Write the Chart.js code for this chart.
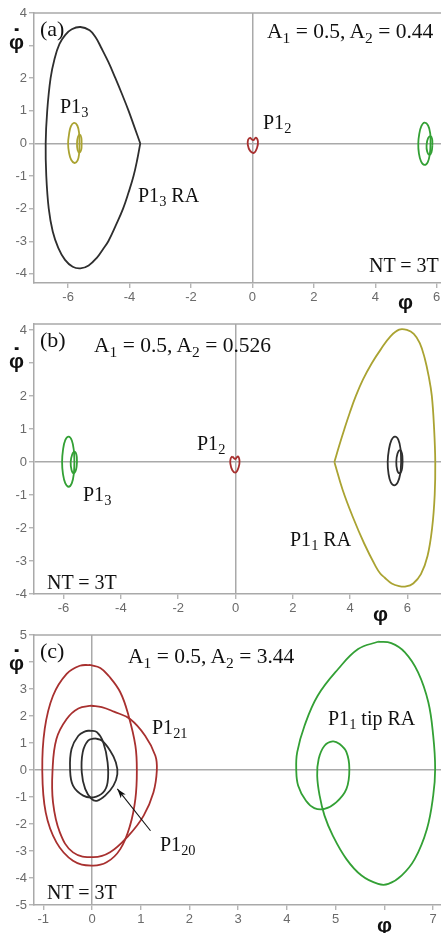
<!DOCTYPE html>
<html>
<head>
<meta charset="utf-8">
<script src="https://cdn.jsdelivr.net/npm/chart.js@4/dist/chart.umd.min.js"></script>
<style>
  html, body { margin: 0; padding: 0; background: #fff; }
  #wrap { position: relative; width: 441px; height: 933px; overflow: hidden; }
  canvas { position: absolute; left: 0; }
  .t { position: absolute; font-family: "Liberation Serif", "Times New Roman", serif; font-size: 20px; line-height: 1; white-space: nowrap; color: #111; }
  .t sub { font-size: 0.72em; vertical-align: baseline; position: relative; top: 0.3em; }
  .big { font-size: 21.5px; }
  .pl { font-size: 22px; }
  .ax { position: absolute; font-family: "Liberation Sans", Arial, sans-serif; font-weight: bold; font-size: 21px; line-height: 1; color: #111; }
  .ax .dot { position: absolute; left: 3px; top: -6px; font-size: 28px; }
</style>
</head>
<body>
<div id="wrap">
  <canvas id="ca" width="441" height="311" style="top:0px"></canvas>
  <canvas id="cb" width="441" height="311" style="top:311px"></canvas>
  <canvas id="cc" width="441" height="311" style="top:622px"></canvas>

  <!-- (a) -->
  <div class="t pl" style="left:40px;top:18px">(a)</div>
  <div class="t big" style="left:267px;top:21px">A<sub>1</sub> = 0.5, A<sub>2</sub> = 0.44</div>
  <div class="t" style="left:60px;top:96px">P1<sub>3</sub></div>
  <div class="t" style="left:263px;top:112px">P1<sub>2</sub></div>
  <div class="t" style="left:138px;top:185px">P1<sub>3</sub> RA</div>
  <div class="t" style="left:369px;top:255px">NT = 3T</div>
  <div class="ax" style="left:9px;top:31px">φ<span class="dot">˙</span></div>
  <div class="ax" style="left:398px;top:291px">φ</div>

  <!-- (b) -->
  <div class="t pl" style="left:40px;top:329px">(b)</div>
  <div class="t big" style="left:94px;top:335px">A<sub>1</sub> = 0.5, A<sub>2</sub> = 0.526</div>
  <div class="t" style="left:197px;top:433px">P1<sub>2</sub></div>
  <div class="t" style="left:83px;top:484px">P1<sub>3</sub></div>
  <div class="t" style="left:290px;top:529px">P1<sub>1</sub> RA</div>
  <div class="t" style="left:47px;top:572px">NT = 3T</div>
  <div class="ax" style="left:9px;top:350px">φ<span class="dot">˙</span></div>
  <div class="ax" style="left:373px;top:603px">φ</div>

  <!-- (c) -->
  <div class="t pl" style="left:40px;top:640px">(c)</div>
  <div class="t big" style="left:128px;top:646px">A<sub>1</sub> = 0.5, A<sub>2</sub> = 3.44</div>
  <div class="t" style="left:152px;top:717px">P1<sub>21</sub></div>
  <div class="t" style="left:160px;top:834px">P1<sub>20</sub></div>
  <div class="t" style="left:328px;top:708px">P1<sub>1</sub> tip RA</div>
  <div class="t" style="left:47px;top:882px">NT = 3T</div>
  <div class="ax" style="left:9px;top:652px">φ<span class="dot">˙</span></div>
  <div class="ax" style="left:377px;top:914px">φ</div>
</div>

<script>
// phase portraits, points as [phi, phidot]

// ---- (a) A2 = 0.44
const aRA = [[-3.65,0],[-3.84,0.5],[-4.03,1.0],[-4.24,1.5],[-4.46,2.0],[-4.69,2.5],[-4.93,2.95],[-5.1,3.25],
  [-5.3,3.47],[-5.6,3.57],[-5.88,3.5],[-6.09,3.33],[-6.28,3.05],[-6.44,2.6],[-6.57,2.0],[-6.68,1.0],[-6.73,0],
  [-6.71,-1.0],[-6.63,-2.0],[-6.5,-2.7],[-6.32,-3.2],[-6.1,-3.57],[-5.85,-3.78],[-5.6,-3.83],[-5.33,-3.74],
  [-5.06,-3.5],[-4.87,-3.25],[-4.69,-3.0],[-4.44,-2.5],[-4.21,-2.0],[-4.03,-1.5],[-3.87,-1.0],[-3.75,-0.5],[-3.65,0]]
const aP13out = [[-5.63,0],[-5.64,0.3],[-5.7,0.55],[-5.81,0.63],[-5.91,0.52],[-5.97,0.28],[-6.0,0],[-5.97,-0.28],
  [-5.9,-0.5],[-5.79,-0.6],[-5.69,-0.52],[-5.64,-0.3],[-5.63,0]]
const aP13in = [[-5.56,0],[-5.57,0.18],[-5.62,0.27],[-5.68,0.2],[-5.71,0],[-5.69,-0.2],[-5.63,-0.28],[-5.57,-0.18],[-5.56,0]]
const aP12 = [[-0.08,0.18],[0.03,0.1],[0.11,0.18],[0.18,0.06],[0.15,-0.14],[0.05,-0.29],[-0.08,-0.22],[-0.15,-0.04],[-0.14,0.11],[-0.08,0.18]]
const aP1out = [[5.8,0],[5.79,0.3],[5.72,0.55],[5.6,0.64],[5.5,0.53],[5.43,0.28],[5.4,0],[5.42,-0.3],[5.49,-0.55],
  [5.6,-0.66],[5.71,-0.57],[5.78,-0.3],[5.8,0]]
const aP1in = [[5.86,-0.05],[5.85,0.14],[5.8,0.22],[5.72,0.16],[5.67,-0.05],[5.69,-0.25],[5.76,-0.35],[5.83,-0.27],[5.86,-0.05]]

// ---- (b) A2 = 0.526
const bRA = [[3.45,0],[3.62,0.5],[3.8,1.0],[3.99,1.5],[4.2,2.0],[4.45,2.5],[4.76,3.0],[5.1,3.45],[5.4,3.8],
  [5.71,4.01],[5.98,4.0],[6.22,3.88],[6.43,3.6],[6.6,3.15],[6.74,2.6],[6.85,2.0],[6.93,1.0],[6.97,0],[6.95,-1.0],
  [6.86,-2.0],[6.7,-2.85],[6.47,-3.4],[6.2,-3.68],[5.95,-3.77],[5.71,-3.76],[5.45,-3.68],[5.2,-3.5],[5.05,-3.38],
  [4.9,-3.18],[4.49,-2.47],[4.09,-1.66],[3.74,-0.85],[3.45,0]]
const bP13out = [[-5.62,0],[-5.64,0.35],[-5.71,0.65],[-5.82,0.77],[-5.94,0.66],[-6.02,0.35],[-6.05,0],[-6.02,-0.36],
  [-5.94,-0.64],[-5.82,-0.75],[-5.71,-0.64],[-5.64,-0.35],[-5.62,0]]
const bP13in = [[-5.53,0],[-5.55,0.22],[-5.62,0.31],[-5.7,0.22],[-5.75,0],[-5.72,-0.24],[-5.64,-0.34],[-5.56,-0.22],[-5.53,0]]
const bP12 = [[-0.11,0.17],[-0.01,0.09],[0.08,0.17],[0.14,0.04],[0.11,-0.16],[0.01,-0.32],[-0.11,-0.25],[-0.18,-0.05],[-0.17,0.1],[-0.11,0.17]]
const bP11out = [[5.78,0],[5.76,0.38],[5.68,0.68],[5.56,0.77],[5.44,0.66],[5.35,0.36],[5.31,0],[5.34,-0.36],
  [5.42,-0.62],[5.54,-0.71],[5.66,-0.62],[5.75,-0.35],[5.78,0]]
const bP11in = [[5.83,0],[5.81,0.25],[5.74,0.36],[5.65,0.25],[5.61,0],[5.64,-0.24],[5.72,-0.34],[5.8,-0.24],[5.83,0]]

// ---- (c) A2 = 3.44
const cP21a = [[-0.04,3.89],[0.17,3.78],[0.34,3.49],[0.58,2.88],[0.75,2.01],[0.89,0.9],[0.92,-0.03],[0.89,-1.07],
  [0.78,-2.06],[0.58,-2.93],[0.3,-3.42],[-0.01,-3.54],[-0.39,-3.36],[-0.73,-2.68],[-0.95,-1.57],[-1.02,-0.02],
  [-0.97,1.52],[-0.8,2.75],[-0.52,3.56],[-0.25,3.86],[-0.04,3.89]]
const cP21b = [[-0.01,2.38],[0.2,2.33],[0.45,2.16],[0.78,1.89],[1.09,1.27],[1.3,0.53],[1.33,-0.02],[1.26,-0.83],
  [1.06,-1.69],[0.75,-2.43],[0.37,-3.05],[0.03,-3.23],[-0.39,-3.05],[-0.66,-2.31],[-0.8,-1.2],[-0.81,-0.02],
  [-0.73,1.15],[-0.52,1.89],[-0.28,2.28],[-0.01,2.38]]
const cP20a = [[-0.04,1.46],[0.1,1.4],[0.23,1.03],[0.32,0.28],[0.32,-0.46],[0.23,-0.83],[0.03,-1.01],[-0.18,-0.95],
  [-0.39,-0.58],[-0.45,0.04],[-0.42,0.78],[-0.28,1.27],[-0.14,1.43],[-0.04,1.46]]
const cP20b = [[0.06,1.17],[0.2,1.09],[0.37,0.72],[0.49,0.28],[0.52,-0.15],[0.44,-0.58],[0.27,-0.95],[0.1,-1.14],
  [-0.01,-1.07],[-0.14,-0.7],[-0.21,-0.09],[-0.19,0.66],[-0.08,1.09],[0.06,1.17]]
const cTipRA = [[5.87,4.75],[5.46,4.48],[5.05,3.74],[4.63,2.75],[4.36,1.64],[4.21,0.66],[4.19,0.04],[4.23,-0.58],
  [4.39,-1.14],[4.56,-1.41],[4.77,-1.44],[5.01,-1.2],[5.22,-0.7],[5.28,0.04],[5.22,0.66],[5.08,0.96],[4.94,1.06],
  [4.77,0.9],[4.65,0.41],[4.62,-0.21],[4.67,-0.95],[4.77,-1.69],[4.94,-2.43],[5.22,-3.3],[5.53,-3.91],[5.87,-4.22],
  [6.08,-4.22],[6.35,-3.91],[6.62,-3.3],[6.87,-2.19],[7.0,-0.95],[7.04,0.04],[7.0,1.27],[6.9,2.51],[6.69,3.62],
  [6.42,4.36],[6.14,4.7],[5.87,4.75]]
const cArrow = [[1.2,-2.25],[0.52,-0.7]]   // tail, head

// axes
const abXTicks = [-6,-4,-2,0,2,4,6]
const abYTicks = [-4,-3,-2,-1,0,1,2,3,4]
const cXTicks = [-1,0,1,2,3,4,5,6,7]
const cYTicks = [-5,-4,-3,-2,-1,0,1,2,3,4,5]

const grey = '#a9a9a9'
const BLACK = '#2e2e2e', OLIVE = '#aaa332', RED = '#a8302f', GREEN = '#33a035'

const topLine = {
  id: 'topLine',
  beforeDatasetsDraw(chart) {
    const a = chart.chartArea, c = chart.ctx
    c.save()
    c.strokeStyle = grey
    c.lineWidth = 1.5
    c.beginPath()
    c.moveTo(a.left, a.top)
    c.lineTo(a.right, a.top)
    c.stroke()
    c.restore()
  }
}

const arrow = {
  id: 'arrow',
  afterDatasetsDraw(chart) {
    const xs = chart.scales.x, ys = chart.scales.y, c = chart.ctx
    const x0 = xs.getPixelForValue(cArrow[0][0]), y0 = ys.getPixelForValue(cArrow[0][1])
    const x1 = xs.getPixelForValue(cArrow[1][0]), y1 = ys.getPixelForValue(cArrow[1][1])
    const ang = Math.atan2(y1 - y0, x1 - x0), L = 10, w = 0.32
    c.save()
    c.strokeStyle = '#111'
    c.fillStyle = '#111'
    c.lineWidth = 1.1
    c.beginPath()
    c.moveTo(x0, y0)
    c.lineTo(x1, y1)
    c.stroke()
    c.beginPath()
    c.moveTo(x1, y1)
    c.lineTo(x1 - L * Math.cos(ang - w), y1 - L * Math.sin(ang - w))
    c.lineTo(x1 - L * 0.7 * Math.cos(ang), y1 - L * 0.7 * Math.sin(ang))
    c.lineTo(x1 - L * Math.cos(ang + w), y1 - L * Math.sin(ang + w))
    c.closePath()
    c.fill()
    c.restore()
  }
}

const tickFont = { family: 'Liberation Sans', size: 13 }

const axis = function (range, ticks, hide, size, horiz) {
  return {
    type: 'linear',
    min: range[0],
    max: range[1],
    afterBuildTicks: ax => { ax.ticks = ticks.map(v => ({ value: v })) },
    afterFit: ax => {
      if (horiz) { ax.height = size; ax.paddingLeft = 0; ax.paddingRight = 0 }
      else { ax.width = size; ax.paddingTop = 0; ax.paddingBottom = 0 }
    },
    ticks: {
      autoSkip: false, maxRotation: 0, padding: 2, color: '#6a6a6a', font: tickFont,
      callback: v => hide.includes(v) ? '' : String(v)
    },
    grid: {
      color: c => (c.tick && c.tick.value === 0) ? grey : 'rgba(0,0,0,0)',
      lineWidth: 1.5, tickColor: grey, tickLength: 5, tickWidth: 1.2
    },
    border: { display: true, color: grey, width: 1.5 }
  }
}

const panel = function (id, sets, xr, yr, xt, yt, hideX, hideY, extra) {
  const ctx = document.getElementById(id).getContext('2d')
  return new Chart(ctx, {
    type: 'scatter',
    data: {
      datasets: sets.map(s => ({
        data: s[0].map(p => ({ x: p[0], y: p[1] })),
        borderColor: s[1],
        borderWidth: 1.8,
        showLine: true,
        pointRadius: 0,
        tension: 0.4,
        fill: false
      }))
    },
    options: {
      responsive: false,
      animation: false,
      devicePixelRatio: 1,
      layout: { padding: { top: 13, left: 0, right: 0, bottom: 0 } },
      plugins: { legend: { display: false }, tooltip: { enabled: false } },
      scales: {
        x: axis(xr, xt, hideX, 28, true),
        y: axis(yr, yt, hideY, 34, false)
      }
    },
    plugins: [topLine].concat(extra || [])
  })
}

panel('ca',
  [[aRA, BLACK], [aP13out, OLIVE], [aP13in, OLIVE], [aP12, RED], [aP1out, GREEN], [aP1in, GREEN]],
  [-7.11, 6.14], [-4.28, 4], abXTicks, abYTicks, [], [3])

panel('cb',
  [[bRA, OLIVE], [bP13out, GREEN], [bP13in, GREEN], [bP12, RED], [bP11out, BLACK], [bP11in, BLACK]],
  [-7.03, 7.17], [-4, 4.18], abXTicks, abYTicks, [], [3])

panel('cc',
  [[cP21a, RED], [cP21b, RED], [cP20a, BLACK], [cP20b, BLACK], [cTipRA, GREEN]],
  [-1.19, 7.16], [-5, 5], cXTicks, cYTicks, [6], [4], [arrow])
</script>
</body>
</html>
